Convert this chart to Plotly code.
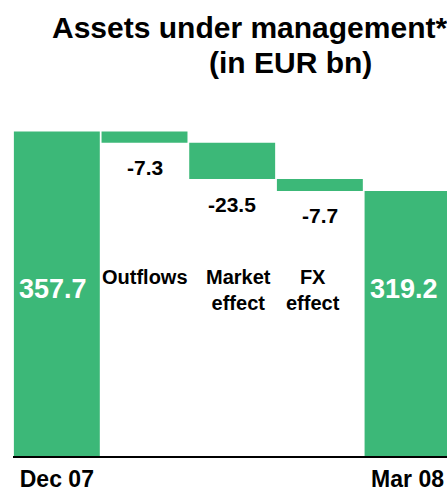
"""
Waterfall chart: assets under management, Dec 07 -> Mar 08.
"""

import plotly.graph_objects as go

# Data
categories = ["Dec 07", "Outflows", "Market effect", "FX effect", "Mar 08"]
values = [357.7, -7.3, -23.5, -7.7, 319.2]
measures = ["absolute", "relative", "relative", "relative", "total"]
inner_labels = ["", "Outflows", "Market<br>effect", "FX<br>effect", ""]
tick_labels = ["Dec 07", "Mar 08"]

GREEN = "#3CB878"
FONT = "Liberation Sans, Arial, sans-serif"

W, H = 447, 491
M_L, M_R, M_T, M_B = 13, 0, 100, 35


def px_x(px):
    # pixel x in the window -> paper x
    return (px - M_L) / (W - M_L - M_R)


def px_y(py):
    # pixel y in the window -> paper y
    return (H - M_B - py) / (H - M_T - M_B)


fig = go.Figure()
fig.add_trace(go.Waterfall(
    x=categories,
    y=values,
    measure=measures,
    increasing=dict(marker=dict(color=GREEN)),
    decreasing=dict(marker=dict(color=GREEN)),
    totals=dict(marker=dict(color=GREEN)),
    connector=dict(visible=False),
    textinfo="none",
    hoverinfo="skip",
))

annotations = []

# Running level, to place the labels under the negative steps
level = 0
for cat, val, meas, inner in zip(categories, values, measures, inner_labels):
    if meas == "relative":
        level += val
    else:
        level = val

    if meas in ("absolute", "total"):
        # White value inside the total bars
        annotations.append(dict(
            x=cat, y=px_y(289), xref="x", yref="paper", text=f"{val:.1f}",
            showarrow=False, xshift=-4, yanchor="middle",
            font=dict(family=FONT, size=27, color="white", weight="bold"),
        ))
    else:
        # Change value below the floating bar
        annotations.append(dict(
            x=cat, y=level, xref="x", yref="y", text=f"{val:.1f}",
            showarrow=False, yanchor="middle", yshift=-25,
            font=dict(family=FONT, size=21, color="black", weight="bold"),
        ))
        annotations.append(dict(
            x=cat, y=px_y(264), xref="x", yref="paper", text=inner,
            showarrow=False, yanchor="top",
            xshift={"Outflows": 0, "Market effect": 6, "FX effect": -7}[cat],
            font=dict(family=FONT, size=20, color="black", weight="bold"),
        ))

# Title in two lines
title_font = dict(family=FONT, size=30, color="black", weight="bold")
annotations.append(dict(
    x=px_x(249), y=px_y(27), xref="paper", yref="paper",
    text="Assets under management*", showarrow=False,
    xanchor="center", yanchor="middle", font=title_font,
))
annotations.append(dict(
    x=px_x(290), y=px_y(62), xref="paper", yref="paper",
    text="(in EUR bn)", showarrow=False,
    xanchor="center", yanchor="middle", font=title_font,
))

fig.update_layout(
    width=W,
    height=H,
    margin=dict(l=M_L, r=M_R, t=M_T, b=M_B),
    paper_bgcolor="white",
    plot_bgcolor="white",
    showlegend=False,
    waterfallgap=0.02,
    annotations=annotations,
    xaxis=dict(
        type="category",
        range=[-0.5, 4.45],
        tickvals=[categories[0], categories[-1]],
        ticktext=tick_labels,
        tickfont=dict(family=FONT, size=23, color="black", weight="bold"),
        showline=True,
        linecolor="black",
        linewidth=1.5,
        ticks="",
        ticklabelstandoff=2,
        automargin=False,
        showgrid=False,
        zeroline=False,
        fixedrange=True,
    ),
    yaxis=dict(
        range=[147.2, 378.2],
        visible=False,
        automargin=False,
        showgrid=False,
        zeroline=False,
    ),
)

# the page's default body margin would shift the figure, so drop it
fig.write_html(
    "out.html",
    config={"displayModeBar": False},
    post_script="document.body.style.margin='0';",
)
